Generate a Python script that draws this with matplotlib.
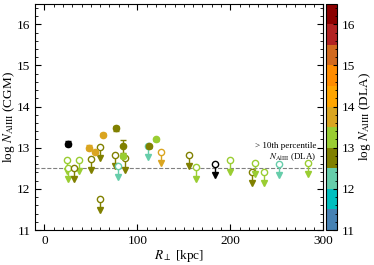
import numpy as np
import matplotlib
matplotlib.use("Agg")
import matplotlib.pyplot as plt
from matplotlib.colors import ListedColormap, BoundaryNorm

plt.rcParams['font.family'] = 'serif'
plt.rcParams['font.serif'] = ['Liberation Serif', 'DejaVu Serif']
plt.rcParams['mathtext.fontset'] = 'stix'

# detections (CGM) - filled
det_r = [25.5, 48.2, 54.7, 62.5, 77.2, 85.0, 84.3, 112.5, 120.0]
det_n = [13.10, 13.00, 12.90, 13.32, 13.47, 13.03, 12.80, 13.03, 13.20]
det_err = [0.07, 0.06, 0.03, 0.03, 0.06, 0.15, 0.04, 0.04, 0.03]
det_dla = [np.nan, 13.7, 13.7, 13.7, 12.7, 12.7, 13.2, 12.7, 13.2]

# upper limits (CGM) - open
lim_r = [24.4, 36.9, 25.5, 31.6, 50.0, 60.0, 60.0, 75.7, 79.6, 86.8, 111.0,
         125.5, 155.3, 163.0, 184.0, 200.2, 223.0, 227.0, 236.5, 253.0, 284.0]
lim_n = [12.70, 12.70, 12.50, 12.50, 12.73, 13.02, 11.75, 12.82, 12.56, 12.74, 13.04,
         12.90, 12.83, 12.52, 12.60, 12.69, 12.42, 12.62, 12.42, 12.60, 12.62]
lim_dla = [13.2, 13.2, 13.2, 12.7, 12.7, 12.7, 12.7, 12.7, 12.2, 12.7, 12.2,
           13.7, 12.7, 13.2, np.nan, 13.2, 12.7, 13.2, 13.2, 12.2, 13.2]

cb_colors = ['steelblue', '#00bfbf', 'mediumaquamarine', 'olive', 'yellowgreen',
             'goldenrod', 'orange', 'darkorange', 'chocolate', 'firebrick', 'darkred']
bounds = np.arange(11, 16.51, 0.5)
threshold = 12.5

cmap = ListedColormap(cb_colors)
norm = BoundaryNorm(bounds, cmap.N)

def col(v):
    if np.isnan(v):
        return 'black'
    return cmap(norm(v))

fig = plt.figure(figsize=(3.74, 2.65), dpi=100)
ax = fig.add_axes([0.094, 0.132, 0.77, 0.854])
cax = fig.add_axes([0.872, 0.132, 0.03, 0.854])

ax.axhline(threshold, color='gray', ls='--', lw=0.8, zorder=1)

arrow = 0.27
for r, n, d in zip(lim_r, lim_n, lim_dla):
    c = col(d)
    ax.plot([r, r], [n, n - arrow + 0.03], color=c, lw=1.0, zorder=2)
    ax.plot(r, n - arrow, marker='v', color=c, ms=4.5, mec=c, zorder=3)
    ax.plot(r, n, marker='o', mfc='white', mec=c, mew=1.0, ms=4.5, zorder=3)

for r, n, e, d in zip(det_r, det_n, det_err, det_dla):
    c = col(d)
    ax.errorbar(r, n, yerr=e, fmt='o', color=c, ms=4.5, capsize=2,
                elinewidth=1.0, capthick=1.0, zorder=4)

ax.text(293, 12.62, "> 10th percentile\n$N_{\\rm AlIII}$ (DLA)", ha='right',
        va='bottom', fontsize=6.5, linespacing=1.2)

ax.set_xlim(-10, 300)
ax.set_ylim(11, 16.5)
ax.set_xticks([0, 100, 200, 300])
ax.set_xticks(np.arange(0, 301, 10), minor=True)
ax.set_yticks([11, 12, 13, 14, 15, 16])
ax.set_yticks(np.arange(11, 16.5, 0.2), minor=True)
ax.tick_params(which='both', direction='in', top=True, right=True, labelsize=9.5)
ax.tick_params(which='major', length=4)
ax.tick_params(which='minor', length=2)
ax.set_xlabel("$R_\\perp$ [kpc]", fontsize=9.5, labelpad=1)
ax.set_ylabel("log $N_{\\rm AlIII}$ (CGM)", fontsize=9.5, labelpad=0)

sm = plt.cm.ScalarMappable(cmap=cmap, norm=norm)
cb = fig.colorbar(sm, cax=cax, ticks=[11, 12, 13, 14, 15, 16])
cb.ax.tick_params(direction='in', labelsize=9.5, length=3)
cb.ax.yaxis.set_minor_locator(plt.MultipleLocator(0.2))
cb.ax.tick_params(which='minor', direction='in', length=1.5)
cb.set_label("log $N_{\\rm AlIII}$ (DLA)", fontsize=9.5, labelpad=1)

fig.savefig("out.png", dpi=100)
